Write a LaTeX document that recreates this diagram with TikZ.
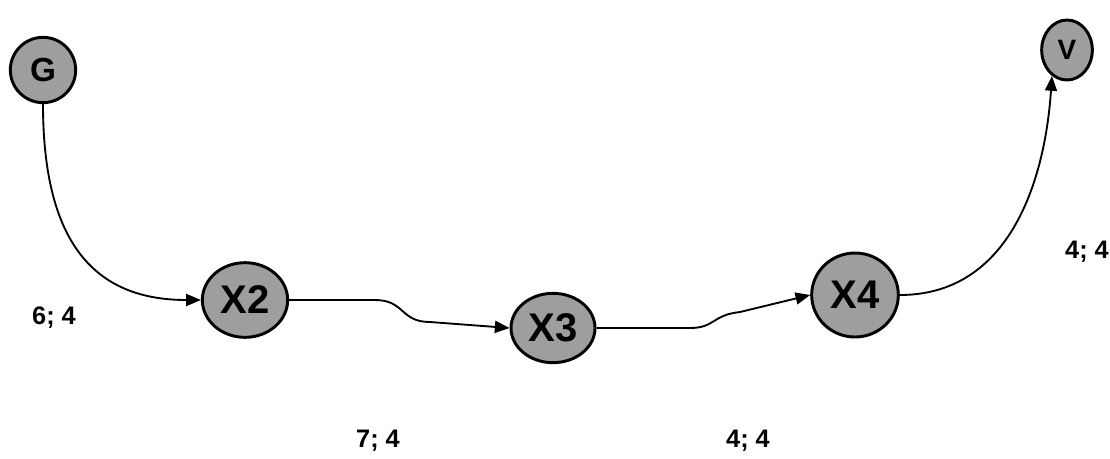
\documentclass[tikz,border=0pt]{standalone}
\usepackage{fontspec}
\setmainfont{Liberation Sans}
\usetikzlibrary{shapes.geometric,arrows.meta}
\tikzset{
  vertex/.style={ellipse, draw=black, line width=2.2pt, fill=black!38, inner sep=0pt, font=\bfseries, text=black},
  edge/.style={line width=1.4pt, -{Triangle[length=11pt,width=9pt]}},
  weight/.style={font=\bfseries\fontsize{19}{21}\selectfont}
}
\begin{document}
\begin{tikzpicture}[x=0.75pt,y=-0.75pt]
\useasboundingbox (0,0) rectangle (1110,458);
\node[vertex, minimum width=49pt, minimum height=49pt, font=\bfseries\fontsize{25}{26}\selectfont] (G) at (43,70) {G};
\node[vertex, minimum width=64pt, minimum height=56pt, font=\bfseries\fontsize{30}{32}\selectfont] (X2) at (245,300) {X2};
\node[vertex, minimum width=63pt, minimum height=52pt, font=\bfseries\fontsize{30}{32}\selectfont] (X3) at (553,328) {X3};
\node[vertex, minimum width=65pt, minimum height=63pt, font=\bfseries\fontsize{30}{32}\selectfont] (X4) at (855,295) {X4};
\node[vertex, minimum width=38pt, minimum height=45pt, font=\bfseries\fontsize{21}{22}\selectfont] (V) at (1067,50) {V};

\draw[edge] (G.south) .. controls (43,250) and (100,300) .. (X2.west);
\draw[edge] (X2.east) -- (375,300) .. controls (405,300) and (400,322) .. (430,322) -- (X3.west);
\draw[edge] (X3.east) -- (690,328) .. controls (715,328) and (712,315) .. (740,312) -- (X4.west);
\draw[edge] (X4.east) .. controls (1010,295) and (1045,180) .. (V.240);

\node[weight] (w1) at (54,318) {6; 4};
\node[weight] (w2) at (378,441) {7; 4};
\node[weight] (w3) at (748,441) {4; 4};
\node[weight] (w4) at (1087,252) {4; 4};
\end{tikzpicture}
\end{document}
